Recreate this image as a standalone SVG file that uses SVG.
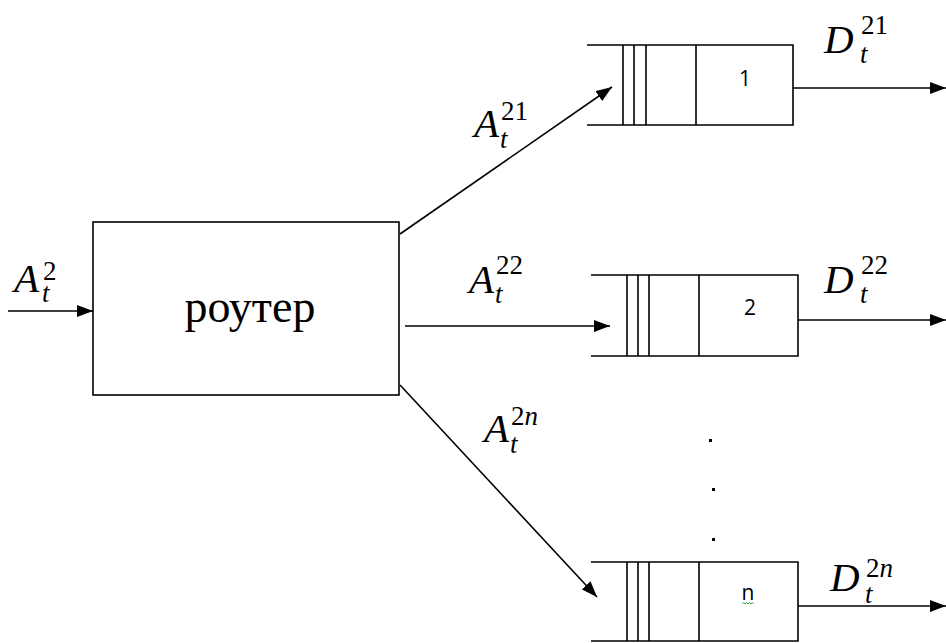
<svg xmlns="http://www.w3.org/2000/svg" width="946" height="643" viewBox="0 0 946 643">
<style>
.ln{stroke:#000;stroke-width:1.6;fill:none}
.box{stroke:#000;stroke-width:1.6;fill:#fff}
.arr{stroke:#000;stroke-width:1.6;fill:none;marker-end:url(#ah)}
.m{font-family:'Liberation Serif','DejaVu Serif',serif;font-style:italic;fill:#000}
.big{font-size:41px}
.sc{font-size:27px}
.up{font-style:normal}
</style>
<defs>
<marker id="ah" markerUnits="userSpaceOnUse" markerWidth="16" markerHeight="12" refX="16" refY="6" orient="auto">
<path d="M0,0 L16,6 L0,12 z" fill="#000"/>
</marker>
</defs>
<rect width="946" height="643" fill="#fff"/>

<g id="router">
<rect class="box" x="93" y="222" width="306" height="173"/>
<text x="250" y="322" font-family="'Liberation Serif', 'Times New Roman', serif" font-size="46" text-anchor="middle" fill="#000">роутер</text>
</g>

<g id="queue1">
<path class="ln" d="M587,45 H793 V125 H587 M623,45 V125 M634,45 V125 M646,45 V125 M696,45 V125"/>
<text x="745" y="86" font-family="'Open Sans', sans-serif" font-size="21" text-anchor="middle" fill="#000">1</text>
</g>

<g id="queue2">
<path class="ln" d="M591,275 H798 V356 H591 M627,275 V356 M638,275 V356 M649,275 V356 M699,275 V356"/>
<text x="750" y="315" font-family="'Open Sans', sans-serif" font-size="21" text-anchor="middle" fill="#000">2</text>
</g>

<g id="queuen">
<path class="ln" d="M591,562 H798 V641 H591 M627,562 V641 M638,562 V641 M649,562 V641 M699,562 V641"/>
<text x="748" y="600" font-family="'Open Sans', sans-serif" font-size="21" text-anchor="middle" fill="#000">n</text>
<path d="M742,604 l1.5,-1.5 l1.5,1.5 l1.5,-1.5 l1.5,1.5 l1.5,-1.5 l1.5,1.5 l1.5,-1.5 l1.5,1.5" stroke="#3a3" stroke-width="1" fill="none"/>
</g>

<g id="dots" fill="#000">
<rect x="709" y="439" width="3" height="3"/>
<rect x="712" y="488" width="3" height="3"/>
<rect x="712" y="538" width="3" height="3"/>
</g>

<g id="connectors">
<line class="arr" x1="8" y1="311" x2="93" y2="311"/>
<line class="arr" x1="400" y1="234" x2="612" y2="87"/>
<line class="arr" x1="405" y1="326" x2="610" y2="326"/>
<line class="arr" x1="400" y1="385" x2="597" y2="597"/>
<line class="arr" x1="793" y1="88" x2="946" y2="88"/>
<line class="arr" x1="798" y1="320" x2="946" y2="320"/>
<line class="arr" x1="798" y1="606" x2="946" y2="606"/>
</g>

<g id="labels">
<text class="m big" x="14" y="292">A</text><text class="m sc up" x="43" y="280">2</text><text class="m sc" x="42" y="302">t</text>
<text class="m big" x="474" y="137">A</text><text class="m sc up" x="501" y="120">21</text><text class="m sc" x="500" y="148">t</text>
<text class="m big" x="469" y="293">A</text><text class="m sc up" x="496" y="274">22</text><text class="m sc" x="495" y="303">t</text>
<text class="m big" x="484" y="442">A</text><text class="m sc" x="511" y="425"><tspan class="up">2</tspan>n</text><text class="m sc" x="510" y="453">t</text>
<text class="m big" x="824" y="53">D</text><text class="m sc up" x="861" y="34">21</text><text class="m sc" x="860" y="63">t</text>
<text class="m big" x="824" y="293">D</text><text class="m sc up" x="861" y="274">22</text><text class="m sc" x="860" y="303">t</text>
<text class="m big" x="830" y="591">D</text><text class="m sc" x="866" y="577"><tspan class="up">2</tspan>n</text><text class="m sc" x="865" y="603">t</text>
</g>
</svg>
